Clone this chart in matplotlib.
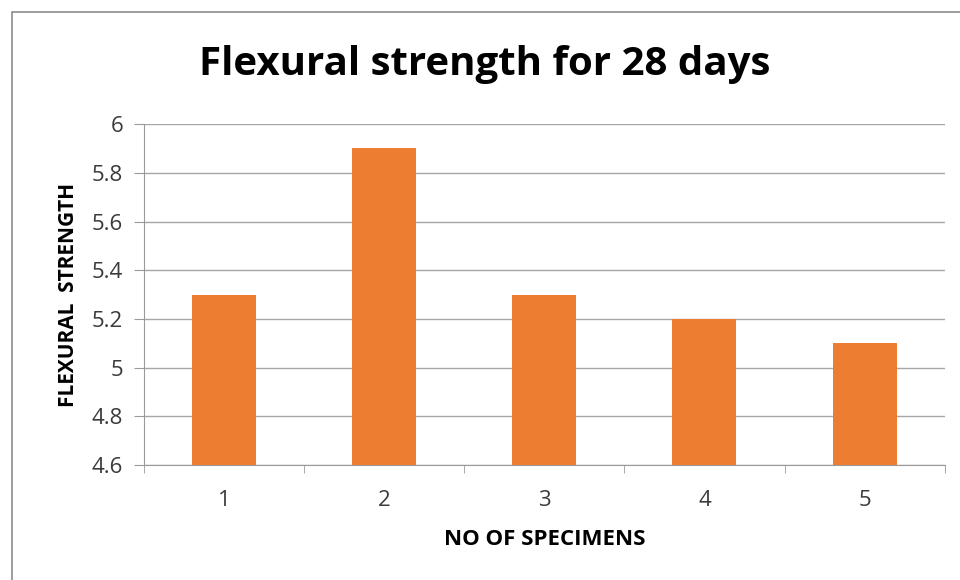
import matplotlib.pyplot as plt
import matplotlib.patches as mpatches
import numpy as np

# data
specimens = ["1", "2", "3", "4", "5"]
strength = [5.3, 5.9, 5.3, 5.2, 5.1]
y_ticks = [4.6, 4.8, 5.0, 5.2, 5.4, 5.6, 5.8, 6.0]
y_labels = ["4.6", "4.8", "5", "5.2", "5.4", "5.6", "5.8", "6"]

plt.rcParams['font.family'] = ['Open Sans', 'DejaVu Sans']

fig = plt.figure(figsize=(9.6, 5.8), dpi=100)
ax = fig.add_axes([0.15, 0.198, 0.834, 0.588])

# outer chart frame (right and bottom edges run off the picture)
fig.patches.append(mpatches.Rectangle((12 / 960, -0.2), 1.2, 1.2 - 12 / 580,
                                      transform=fig.transFigure, fill=False,
                                      edgecolor='#8c8c8c', linewidth=1.2))

x_pos = np.arange(len(specimens))
ax.bar(x_pos, np.array(strength) - y_ticks[0], bottom=y_ticks[0], width=0.4,
       color='#ED7D31', zorder=3)

ax.set_xlim(-0.5, len(specimens) - 0.5)
ax.set_ylim(y_ticks[0], y_ticks[-1])
ax.set_yticks(y_ticks)
ax.set_yticklabels(y_labels, fontsize=16, color='#3a3a3a')
ax.set_xticks(x_pos)
ax.set_xticklabels(specimens, fontsize=16, color='#3a3a3a')
ax.tick_params(axis='x', length=0, pad=18)
ax.tick_params(axis='y', length=7, color='#9a9a9a', pad=8)

# tick marks between categories, like Excel
ax.set_xticks(np.arange(-0.5, len(specimens)), minor=True)
ax.tick_params(axis='x', which='minor', length=6, color='#9a9a9a')

ax.yaxis.grid(True, color='#a6a6a6', linewidth=1.0, zorder=0)
ax.set_axisbelow(True)
for side in ['top', 'right']:
    ax.spines[side].set_visible(False)
ax.spines['left'].set_color('#9a9a9a')
ax.spines['bottom'].set_color('#9a9a9a')

ax.set_xlabel('NO OF SPECIMENS', fontsize=16, fontweight='bold', labelpad=13)
ax.set_ylabel('FLEXURAL  STRENGTH', fontsize=15, fontweight='bold', labelpad=9)

fig.text(0.505, 0.888, 'Flexural strength for 28 days', ha='center', va='center',
         fontsize=29, fontweight='bold')

plt.savefig('out.png', dpi=100)
